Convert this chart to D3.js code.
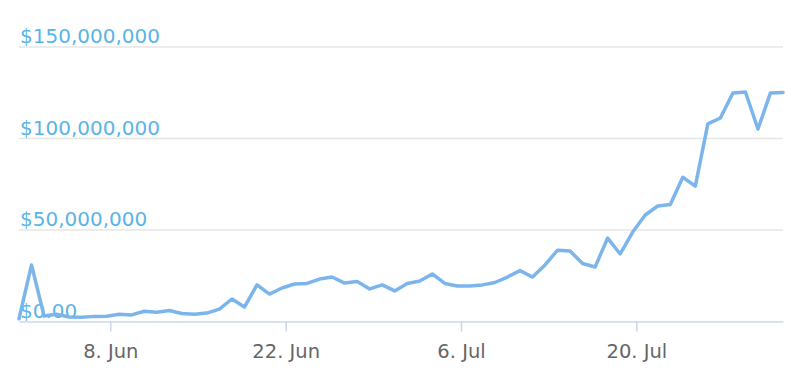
<!DOCTYPE html>
<html>
<head>
<meta charset="utf-8">
<script src="https://cdn.jsdelivr.net/npm/d3@7"></script>
<style>
  html, body { margin: 0; padding: 0; background: #fff; }
  #chart { width: 802px; height: 371px; }
</style>
</head>
<body>
<div id="chart"></div>
<script>
// daily values, first point 31 May
const startDate = Date.UTC(2020, 4, 31, 17);
const values = [
    1.5e6, 30.9e6, 3.0e6, 4.0e6, 2.5e6, 2.3e6, 2.8e6, 2.9e6, 4.0e6, 3.6e6,
    5.6e6, 5.0e6, 6.0e6, 4.4e6, 4.0e6, 4.6e6, 6.8e6, 12.3e6, 7.9e6, 20.0e6,
    15.0e6, 18.3e6, 20.5e6, 20.8e6, 23.2e6, 24.3e6, 21.0e6, 21.9e6, 17.8e6, 20.0e6,
    16.7e6, 20.8e6, 22.1e6, 26.0e6, 20.8e6, 19.4e6, 19.4e6, 20.0e6, 21.3e6, 24.3e6,
    27.8e6, 24.3e6, 30.9e6, 39.0e6, 38.5e6, 31.7e6, 29.8e6, 45.6e6, 36.9e6, 48.9e6,
    58.2e6, 63.1e6, 63.9e6, 78.8e6, 74.0e6, 108.0e6, 111.2e6, 124.9e6, 125.4e6, 105.2e6,
    124.9e6, 125.1e6
];
const yTicks = [0, 50e6, 100e6, 150e6];
const yTickLabels = ["$0.00", "$50,000,000", "$100,000,000", "$150,000,000"];
const xTicks = [Date.UTC(2020, 5, 8), Date.UTC(2020, 5, 22), Date.UTC(2020, 6, 6), Date.UTC(2020, 6, 20)];

const day = 24 * 3600 * 1000;
const data = values.map((v, i) => ({ date: new Date(startDate + i * day), value: v }));

const width = 802, height = 371;
const plot = { left: 19, right: 783, top: 47, bottom: 321.5 };

const svg = d3.select("#chart")
    .append("svg")
    .attr("width", width)
    .attr("height", height);

const x = d3.scaleUtc()
    .domain([data[0].date, data[data.length - 1].date])
    .range([plot.left, plot.right]);

const y = d3.scaleLinear()
    .domain([0, 150e6])
    .range([plot.bottom, plot.top]);

// grid lines
svg.append("g")
    .selectAll("line")
    .data(yTicks.slice(1))
    .enter()
    .append("line")
    .attr("x1", plot.left)
    .attr("x2", plot.right)
    .attr("y1", d => y(d))
    .attr("y2", d => y(d))
    .attr("stroke", "#e6e6e6")
    .attr("stroke-width", 1.5);

// x axis
const xAxis = svg.append("g")
    .attr("transform", `translate(0,${plot.bottom})`)
    .call(d3.axisBottom(x)
        .tickValues(xTicks.map(d => new Date(d)))
        .tickFormat(d3.utcFormat("%-d. %b"))
        .tickSize(10)
        .tickSizeOuter(0)
        .tickPadding(13));

xAxis.select(".domain")
    .attr("stroke", "#ccd6eb")
    .attr("stroke-width", 1.5);
xAxis.selectAll(".tick line")
    .attr("stroke", "#ccd6eb")
    .attr("stroke-width", 1.5);
xAxis.selectAll("text")
    .attr("fill", "#666666")
    .style("font-family", "'DejaVu Sans', sans-serif")
    .style("font-size", "19.5px");

// y labels inside plot
svg.append("g")
    .selectAll("text")
    .data(yTicks)
    .enter()
    .append("text")
    .attr("x", 20)
    .attr("y", d => y(d) - 4)
    .attr("fill", "#5ab4e6")
    .style("font-family", "'DejaVu Sans', sans-serif")
    .style("font-size", "20px")
    .text((d, i) => yTickLabels[i]);

// line
const line = d3.line()
    .x(d => x(d.date))
    .y(d => y(d.value));

svg.append("path")
    .datum(data)
    .attr("fill", "none")
    .attr("stroke", "#7cb5ec")
    .attr("stroke-width", 3.5)
    .attr("stroke-linejoin", "round")
    .attr("stroke-linecap", "round")
    .attr("d", line);
</script>
</body>
</html>
